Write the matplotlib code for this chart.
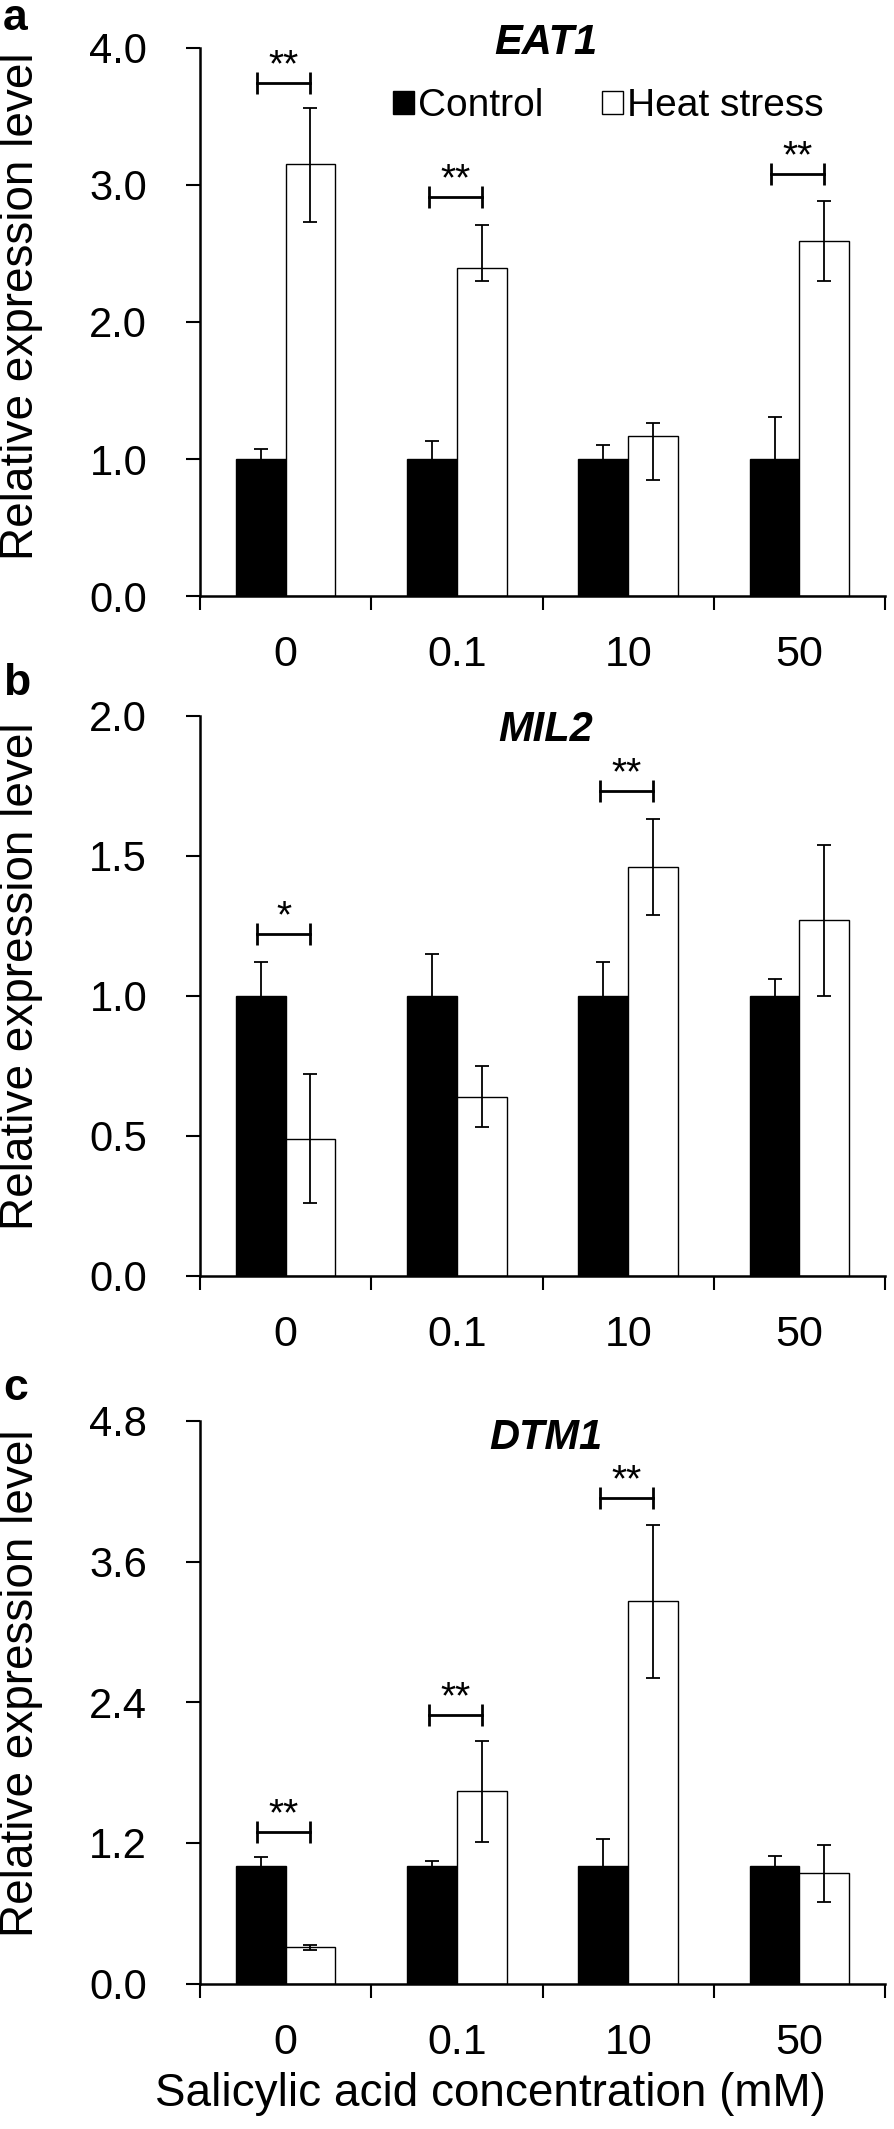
import matplotlib
matplotlib.use("Agg")
from matplotlib import pyplot as plt
from matplotlib.patches import Patch
import numpy as np

plt.rcParams['font.family'] = ['Liberation Sans', 'DejaVu Sans']

# ---- data ----
categories = ['0', '0.1', '10', '50']

eat1_ctrl = [1.0, 1.0, 1.0, 1.0]
eat1_ctrl_err = [0.07, 0.13, 0.10, 0.31]
eat1_heat = [3.15, 2.39, 1.17, 2.59]
eat1_heat_lo = [0.42, 0.09, 0.32, 0.29]
eat1_heat_hi = [0.41, 0.32, 0.09, 0.29]
eat1_sig = [(0, 3.74, '**'), (1, 2.91, '**'), (3, 3.08, '**')]

mil2_ctrl = [1.0, 1.0, 1.0, 1.0]
mil2_ctrl_err = [0.12, 0.15, 0.12, 0.06]
mil2_heat = [0.49, 0.64, 1.46, 1.27]
mil2_heat_lo = [0.23, 0.11, 0.17, 0.27]
mil2_heat_hi = [0.23, 0.11, 0.17, 0.27]
mil2_sig = [(0, 1.22, '*'), (2, 1.73, '**')]

dtm1_ctrl = [1.0, 1.0, 1.0, 1.0]
dtm1_ctrl_err = [0.08, 0.05, 0.23, 0.09]
dtm1_heat = [0.31, 1.64, 3.26, 0.94]
dtm1_heat_lo = [0.02, 0.43, 0.65, 0.24]
dtm1_heat_hi = [0.02, 0.43, 0.65, 0.24]
dtm1_sig = [(0, 1.29, '**'), (1, 2.29, '**'), (2, 4.14, '**')]

W, H = 894, 2129
fig = plt.figure(figsize=(W / 100, H / 100), dpi=100)

def px(x, y):
    # pixel -> figure fraction
    return x / W, 1 - y / H

panels = [
    # gene, letter, ctrl, ctrl_err, heat, lo, hi, sig, ymax, yticks, top_px, bot_px, title_y, letter_y, ylab_y
    ('EAT1', 'a', eat1_ctrl, eat1_ctrl_err, eat1_heat, eat1_heat_lo, eat1_heat_hi, eat1_sig,
     4.0, [0, 1, 2, 3, 4], 47.7, 596.2, 43, 30, 306),
    ('MIL2', 'b', mil2_ctrl, mil2_ctrl_err, mil2_heat, mil2_heat_lo, mil2_heat_hi, mil2_sig,
     2.0, [0, 0.5, 1.0, 1.5, 2.0], 715.7, 1275.8, 730, 695, 976),
    ('DTM1', 'c', dtm1_ctrl, dtm1_ctrl_err, dtm1_heat, dtm1_heat_lo, dtm1_heat_hi, dtm1_sig,
     4.8, [0, 1.2, 2.4, 3.6, 4.8], 1420.8, 1983.7, 1438, 1400, 1683),
]

x = np.arange(len(categories))
bw = 0.29
left_px, right_px = 200, 885

for (gene, letter, ctrl, ctrl_err, heat, lo, hi, sig, ymax, yticks,
     top_px, bot_px, title_y, letter_y, ylab_y) in panels:
    ax = fig.add_axes([left_px / W, 1 - bot_px / H, (right_px - left_px) / W, (bot_px - top_px) / H])
    ax.bar(x - bw / 2, ctrl, bw, color='black', edgecolor='black', linewidth=1.0, zorder=2)
    ax.bar(x + bw / 2, heat, bw, color='white', edgecolor='black', linewidth=1.0, zorder=2)
    ax.errorbar(x - bw / 2, ctrl, yerr=ctrl_err, fmt='none', ecolor='black',
                elinewidth=1.3, capsize=4.7, capthick=1.3, zorder=3)
    ax.errorbar(x + bw / 2, heat, yerr=[lo, hi], fmt='none', ecolor='black',
                elinewidth=1.3, capsize=4.7, capthick=1.3, zorder=3)

    for i, yv, star in sig:
        ax.plot([i - 0.165, i + 0.145], [yv, yv], color='black', lw=2,
                marker='|', markersize=16, mew=2, zorder=4)
        ax.annotate(star, (i - 0.01, yv), xytext=(0, 5), textcoords='offset points',
                    ha='center', va='baseline', fontsize=28)

    ax.set_xlim(-0.5, len(categories) - 0.5)
    ax.set_ylim(0, ymax)
    ax.set_yticks(yticks)
    ax.set_yticklabels(['%.1f' % t for t in yticks])
    ax.set_xticks(np.arange(-0.5, len(categories), 1.0))
    ax.set_xticklabels([])
    ax.set_xticks(x, minor=True)
    ax.set_xticklabels(categories, minor=True)
    ax.tick_params(axis='x', which='minor', length=0, pad=28, labelsize=31)
    ax.tick_params(axis='x', which='major', direction='out', length=10, width=1.5)
    ax.tick_params(axis='y', direction='out', length=10, width=1.5, pad=28, labelsize=30)
    for s in ['top', 'right']:
        ax.spines[s].set_visible(False)
    for s in ['left', 'bottom']:
        ax.spines[s].set_linewidth(1.8)
    ax.set_facecolor('none')

    fx, fy = px(left_px + (right_px - left_px) * 0.505, title_y)
    fig.text(fx, fy, gene, fontsize=30, fontweight='bold', fontstyle='italic',
             ha='center', va='center')
    fx, fy = px(3, letter_y)
    fig.text(fx, fy, letter, fontsize=32, fontweight='bold', ha='left', va='baseline')
    fx, fy = px(21, ylab_y)
    fig.text(fx, fy, 'Relative expression level', fontsize=33, rotation=90,
             ha='center', va='center')

    if letter == 'a':
        handles = [Patch(facecolor='black', edgecolor='black', label='Control'),
                   Patch(facecolor='white', edgecolor='black', linewidth=1.0, label='Heat stress')]
        lx, ly = px(393, 106)
        ax.legend(handles=handles, loc='center left', bbox_to_anchor=(lx, ly),
                  bbox_transform=fig.transFigure, ncol=2, frameon=False,
                  fontsize=28, handlelength=0.55, handleheight=0.55,
                  handletextpad=0.1, columnspacing=1.5, borderpad=0, borderaxespad=0)

fx, fy = px(490, 2094)
fig.text(fx, fy, 'Salicylic acid concentration (mM)', fontsize=33, ha='center', va='center')

fig.savefig('out.png', dpi=100)
